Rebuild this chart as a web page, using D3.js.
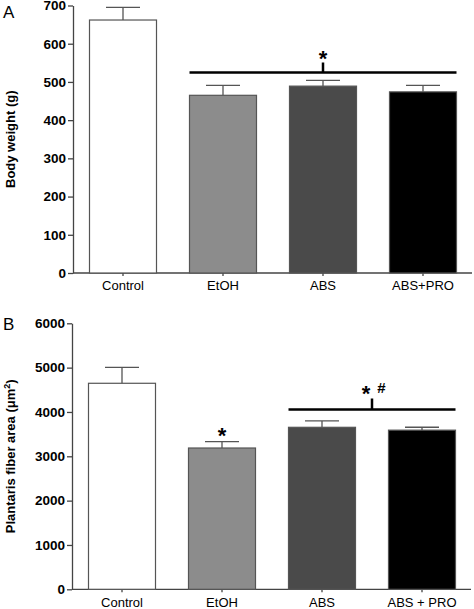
<!DOCTYPE html>
<html><head><meta charset="utf-8">
<script src="https://cdnjs.cloudflare.com/ajax/libs/d3/7.8.5/d3.min.js"></script>
<style>body{margin:0;background:#fff}svg{display:block}text{font-family:"Liberation Sans",Arial,sans-serif}</style>
</head><body>
<script>
const categoriesA = ["Control","EtOH","ABS","ABS+PRO"];
const valuesA = [662, 465, 489, 474];
const errorsA = [33, 26, 15, 17];
const ticksA = [0,100,200,300,400,500,600,700];

const categoriesB = ["Control","EtOH","ABS","ABS + PRO"];
const valuesB = [4647, 3187, 3654, 3590];
const errorsB = [360, 143, 143, 65];
const ticksB = [0,1000,2000,3000,4000,5000,6000];

const fills = ["#ffffff","#8c8c8c","#4a4a4a","#000000"];

const svg = d3.select("body").append("svg").attr("width",474).attr("height",609);

function panel(o){
  const g = svg.append("g");
  const x = d3.scaleBand().domain(o.cats).range([o.x0, o.x0+400]).paddingInner(0.33).paddingOuter(0.165);
  const y = d3.scaleLinear().domain([0,o.max]).range([o.yb, o.yt]);
  const ya = g.append("g").attr("transform",`translate(${o.x0},0)`)
    .call(d3.axisLeft(y).tickValues(o.ticks).tickFormat(d3.format("d")).tickSize(5).tickPadding(2).tickSizeOuter(0));
  ya.select(".domain").attr("stroke","#444").attr("stroke-width",1.3);
  ya.selectAll(".tick line").attr("stroke","#444").attr("stroke-width",1.3);
  ya.selectAll("text").attr("font-size",13.5).attr("font-weight","bold").attr("fill","#000");
  const xa = g.append("g").attr("transform",`translate(0,${o.yb})`)
    .call(d3.axisBottom(x).tickSize(3).tickPadding(5).tickSizeOuter(0));
  xa.select(".domain").attr("d",`M${o.x0},0H${o.x0+399}`).attr("stroke","#444").attr("stroke-width",1.3);
  xa.selectAll(".tick line").attr("stroke","#444").attr("stroke-width",1.3);
  xa.selectAll("text").attr("font-size",13).attr("fill","#000");
  g.selectAll(".err").data(o.vals).enter().append("path")
    .attr("d",(d,i)=>{const cx=x(o.cats[i])+x.bandwidth()/2; const ye=y(d+o.errs[i]);
      return `M${cx},${y(d)}V${ye}M${cx-17},${ye}H${cx+17}`;})
    .attr("stroke","#555").attr("stroke-width",1.3).attr("fill","none");
  g.selectAll(".bar").data(o.vals).enter().append("rect")
    .attr("x",(d,i)=>x(o.cats[i])).attr("width",x.bandwidth())
    .attr("y",d=>y(d)).attr("height",d=>y(0)-y(d))
    .attr("fill",(d,i)=>fills[i]).attr("stroke","#555").attr("stroke-width",1.2);
  g.append("text").attr("transform",`translate(${o.tx},${(o.yb+o.yt)/2}) rotate(-90)`)
    .attr("text-anchor","middle").attr("font-size",13).attr("font-weight","bold").html(o.title);
  g.append("text").attr("x",o.lx).attr("y",o.ly).attr("font-size",17).text(o.letter);
  return {x,y,g};
}

const A = panel({cats:categoriesA, vals:valuesA, errs:errorsA, ticks:ticksA, max:700,
  x0:73, yb:273, yt:5.5, title:"Body weight (g)", tx:15, letter:"A", lx:3, ly:18});
const B = panel({cats:categoriesB, vals:valuesB, errs:errorsB, ticks:ticksB, max:6000,
  x0:72, yb:589.3, yt:323.3, title:"Plantaris fiber area (<tspan>μm</tspan><tspan font-size='9' dy='-5'>2</tspan><tspan dy='5'>)</tspan>", tx:15, letter:"B", lx:3, ly:330});

{
  const {x,y,g} = A;
  const x1 = x("EtOH"), x2 = x("ABS+PRO")+x.bandwidth();
  const yy = y(525);
  const cx = x("ABS")+x.bandwidth()/2;
  g.append("path").attr("d",`M${x1},${yy}H${x2}M${cx},${yy}V${yy-10}`).attr("stroke","#000").attr("stroke-width",2.5).attr("fill","none");
  g.append("text").attr("x",cx).attr("y",yy-6).attr("text-anchor","middle").attr("font-size",22).attr("font-weight","bold").text("*");
}
{
  const {x,y,g} = B;
  const x1 = x("ABS"), x2 = x("ABS + PRO")+x.bandwidth();
  const yy = y(4058);
  const cx = (x1+x2)/2;
  g.append("path").attr("d",`M${x1},${yy}H${x2}M${cx},${yy}V${yy-11}`).attr("stroke","#000").attr("stroke-width",2.5).attr("fill","none");
  g.append("text").attr("x",cx-6).attr("y",yy-8.5).attr("text-anchor","middle").attr("font-size",22).attr("font-weight","bold").text("*");
  g.append("text").attr("x",cx+9.5).attr("y",yy-16).attr("text-anchor","middle").attr("font-size",15).attr("font-weight","bold").text("#");
  const ex = x("EtOH")+x.bandwidth()/2;
  g.append("text").attr("x",ex).attr("y",y(valuesB[1]+errorsB[1])+1.5).attr("text-anchor","middle").attr("font-size",22).attr("font-weight","bold").text("*");
}
</script>
</body></html>
